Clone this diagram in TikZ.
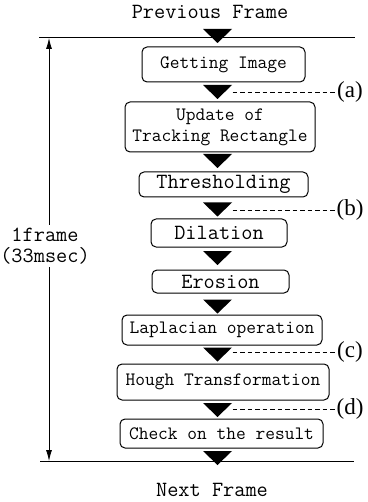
\documentclass[tikz,border=0pt]{standalone}
\usepackage{fontspec}
\setmainfont{Liberation Serif}
\usetikzlibrary{arrows.meta}

\begin{document}
\begin{tikzpicture}[x=1pt,y=-1pt,line join=round,
    box/.style={draw,rounded corners=5pt,line width=1pt,inner sep=0pt,align=center,
      font=\ttfamily\fontsize{18.9}{21}\selectfont},
    bigbox/.style={box,font=\ttfamily\fontsize{21.7}{21}\selectfont},
    caption/.style={align=center,font=\ttfamily\fontsize{21.7}{21}\selectfont},
    tag/.style={inner sep=1pt,font=\fontsize{23}{23}\selectfont},
    hint/.style={line width=0.9pt,dash pattern=on 4.5pt off 3pt}]
      \useasboundingbox (0,0) rectangle (367,502);

      % Frame borders
      \coordinate (hl1) at (39,38);  \coordinate (hr1) at (355,38);
      \coordinate (hl2) at (40,461); \coordinate (hr2) at (354,461);
      \draw[line width=1pt] (hl1) -- (hr1);
      \draw[line width=1pt] (hl2) -- (hr2);

      \node[caption] (prev) at (210,12) {Previous Frame};
      \node[caption] (next) at (212,490) {Next Frame};

      % Processing steps
      \node[box,minimum width=163,minimum height=35] (get) at (223.5,64.5) {Getting Image};
      \node[box,minimum width=190,minimum height=50] (upd) at (220,127) {Update of\\Tracking Rectangle};
      \node[bigbox,minimum width=169,minimum height=25] (thr) at (223.5,184.5) {Thresholding};
      \node[bigbox,minimum width=136,minimum height=28] (dil) at (219,233) {Dilation};
      \node[bigbox,minimum width=137,minimum height=23] (ero) at (220.5,281.5) {Erosion};
      \node[box,minimum width=200,minimum height=30] (lap) at (222,330) {Laplacian operation};
      \node[box,minimum width=212,minimum height=36] (hou) at (223,382) {Hough Transformation};
      \node[box,minimum width=203,minimum height=29] (chk) at (221.5,433.5) {Check on the result};

      % Flow marks
      \coordinate (t0) at (217.5,36);
      \coordinate (t1) at (217.5,92);
      \coordinate (t2) at (217.5,161);
      \coordinate (t3) at (217.5,209.5);
      \coordinate (t4) at (217.5,258);
      \coordinate (t5) at (217.5,306.5);
      \coordinate (t6) at (217.5,354.5);
      \coordinate (t7) at (217.5,410);
      \coordinate (t8) at (217.5,458);
      \foreach \t in {t0,t1,t2,t3,t4,t5,t6,t7,t8}
        \fill (\t) +(-14.5,-7) -- +(14.5,-7) -- +(0,7) -- cycle;

      % Measuring points
      \node[tag] (a) at (350,92) {(a)};
      \node[tag] (b) at (350,210) {(b)};
      \node[tag] (c) at (350,352) {(c)};
      \node[tag] (d) at (350,409) {(d)};
      \draw[hint] ([xshift=15pt]t1 |- a) -- (a.west);
      \draw[hint] ([xshift=15pt]t3 |- b) -- (b.west);
      \draw[hint] ([xshift=15pt]t6 |- c) -- (c.west);
      \draw[hint] ([xshift=15pt]t7 |- d) -- (d.west);

      % Frame period
      \coordinate (vtop) at (49,38);
      \coordinate (vbot) at (49,461);
      \node[caption,inner sep=3pt] (period) at (45,246) {1frame\\(33msec)};
      \draw[line width=0.8pt,{Latex[length=11pt,width=6pt]}-] (vtop) -- (vtop |- period.north);
      \draw[line width=0.8pt,-{Latex[length=11pt,width=6pt]}] (vbot |- period.south) -- (vbot);
    \end{tikzpicture}
\end{document}
